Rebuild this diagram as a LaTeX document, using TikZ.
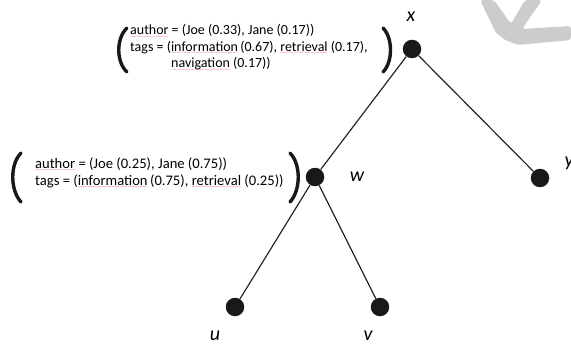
\documentclass[tikz,border=0pt]{standalone}
\usepackage{fontspec}
\setmainfont{Carlito}
\usepackage{xcolor}
\newcommand\spl[1]{\setbox0\hbox{#1}\rlap{\lower3.4pt\hbox to\wd0{\color{red!60}\fontsize{5}{5}\selectfont\xleaders\hbox{\char"007E}\hfill}}#1}
\begin{document}
\begin{tikzpicture}[x=1pt,y=-1pt,
  vert/.style={circle,fill=black!90,inner sep=0pt,minimum size=18.5pt},
  lbl/.style={font=\fontsize{20}{20}\selectfont\itshape,inner sep=0pt},
  infoa/.style={font=\fontsize{14}{16}\selectfont,inner sep=0pt,anchor=base west},
  infob/.style={font=\fontsize{14.6}{17}\selectfont,inner sep=0pt,anchor=base west},
  paren/.style={line width=3.4pt,line cap=round,black!90},
  edge/.style={line width=1.2pt,black!85}]
\useasboundingbox (0,0) rectangle (571,345);
% watermark
\fill[black!20,rounded corners=3pt] (480,0) -- (494,0) -- (511,24) -- (525,0) -- (542,0) -- (522,29) -- (571,26) -- (571,40) -- (518,45) -- (505,40) -- (496,33) -- cycle;
% vertices
\node[vert] (x) at (412,49) {};
\node[vert] (y) at (540,178) {};
\node[vert] (w) at (315,177) {};
\node[vert] (u) at (235,307) {};
\node[vert] (v) at (380,307) {};
% labels
\node[lbl] (lx) at (411,17) {x};
\node[lbl] (ly) at (569,163) {y};
\node[lbl] (lw) at (357,177) {w};
\node[lbl] (lu) at (215,336) {u};
\node[lbl] (lv) at (368,336) {v};
% edges
\draw[edge] (x) -- (w);
\draw[edge] (x) -- (y);
\draw[edge] (w) -- (u);
\draw[edge] (w) -- (v);
% info blocks
\node[infoa] (a1) at (130,35) {\spl{author} = (Joe (0.33), Jane (0.17))};
\node[infoa] (a2) at (130,51.5) {tags = (\spl{information}\,(0.67), \spl{retrieval} (0.17),};
\node[infoa] (a3) at (171,68) {\spl{navigation} (0.17))};
\node[infob] (b1) at (35,168) {\spl{author} = (Joe (0.25), Jane (0.75))};
\node[infob] (b2) at (35,185) {tags = (\spl{information}\,(0.75), \spl{retrieval} (0.25))};
% parentheses
\draw[paren] (127,28) .. controls (116,38) and (116,62) .. (127,72);
\draw[paren] (383,28) .. controls (393,38) and (393,62) .. (383,72);
\draw[paren] (21,153) .. controls (10,164) and (10,190) .. (21,202);
\draw[paren] (290,153) .. controls (301,164) and (301,190) .. (290,202);
\end{tikzpicture}
\end{document}
